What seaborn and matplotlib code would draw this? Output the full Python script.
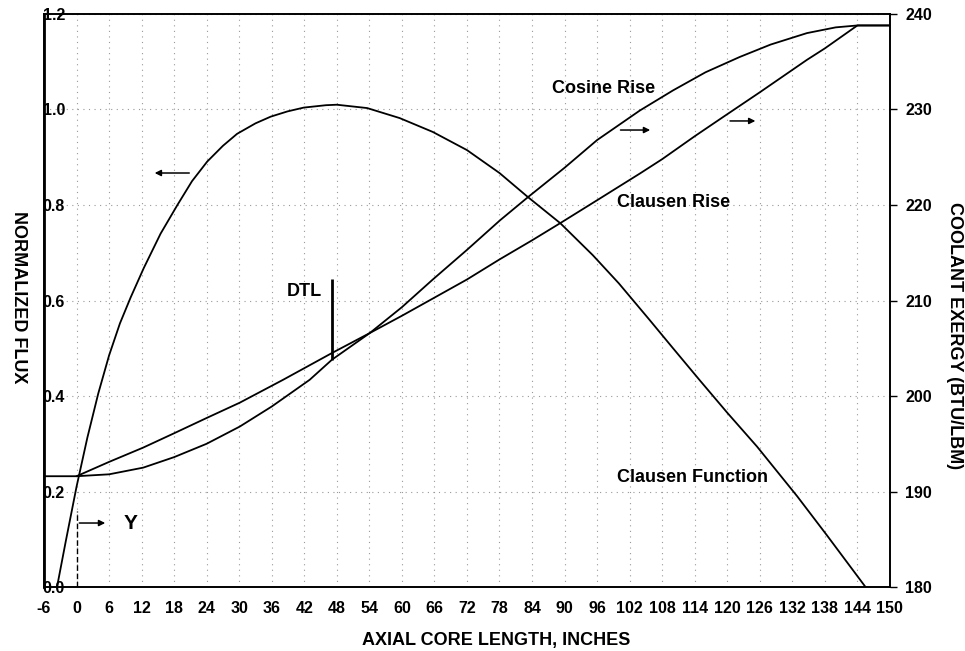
"""
Axial flux shape and coolant exergy rise along the core length.
Left axis: normalized flux (Clausen function); right axis: coolant exergy.
"""

import numpy as np
import pandas as pd
import matplotlib
matplotlib.use("Agg")
import matplotlib.pyplot as plt
import seaborn as sns

# ── Data ───────────────────────────────────────────────────────────────────
flux_x = [-3.6, -2, 0, 2, 4, 6, 8, 10, 12.4, 15.5, 18.6, 21.3, 24.1, 27, 29.6,
          33, 35.8, 38.9, 41.9, 46, 48, 53.6, 59.6, 65.7, 72, 78, 83.2, 89.2,
          95.2, 100, 105.7, 110, 115, 120, 125.5, 132.9, 138.4, 145.5]
flux_y = [0.0, 0.095, 0.21, 0.313, 0.405, 0.485, 0.552, 0.607, 0.668, 0.74, 0.80,
          0.85, 0.891, 0.924, 0.949, 0.971, 0.985, 0.996, 1.004, 1.009, 1.01,
          1.003, 0.982, 0.953, 0.915, 0.867, 0.817, 0.762, 0.695, 0.636, 0.559,
          0.50, 0.432, 0.365, 0.294, 0.19, 0.108, 0.0]

cos_x = [-6, 0, 6, 12.3, 18, 24, 30.1, 36, 43, 47.1, 54.1, 60, 65.7, 72, 78.1,
         83.2, 90, 96, 103.9, 110, 116, 122.3, 128, 134.7, 140, 144, 150]
cos_y = [191.6, 191.6, 191.8, 192.5, 193.6, 195.0, 196.8, 198.9, 201.7, 203.8,
         206.6, 209.3, 212.2, 215.3, 218.4, 220.8, 223.9, 226.8, 229.9, 232.0,
         233.9, 235.5, 236.8, 238.0, 238.6, 238.8, 238.8]

cla_x = [0, 6, 12.3, 18, 24, 30.1, 38.1, 47.1, 54.1, 60, 66, 72, 78, 84, 89.2,
         96, 103.9, 108, 114, 119.2, 126, 134.7, 138, 144, 150]
cla_y = [191.6, 193.1, 194.6, 196.1, 197.7, 199.3, 201.7, 204.5, 206.6, 208.4,
         210.3, 212.2, 214.3, 216.3, 218.1, 220.5, 223.3, 224.8, 227.2, 229.2,
         231.8, 235.2, 236.4, 238.8, 238.8]

x_ticks = list(range(-6, 151, 6))
left_ticks = [0.0, 0.2, 0.4, 0.6, 0.8, 1.0, 1.2]
right_ticks = [180, 190, 200, 210, 220, 230, 240]

# annotation spots, in (x, normalized flux) units
DTL_X, DTL_Y0, DTL_Y1 = 47.1, 0.475, 0.645
Y_MARK_TOP = 0.16

sns.set_theme(style="white")
plt.rcParams["font.family"] = ["Liberation Sans", "DejaVu Sans"]
plt.rcParams["font.weight"] = "bold"
plt.rcParams["text.color"] = "black"
plt.rcParams["xtick.color"] = "black"
plt.rcParams["ytick.color"] = "black"
plt.rcParams["axes.unicode_minus"] = False

fig = plt.figure(figsize=(9.65, 6.51), dpi=100)
ax = fig.add_axes([0.0456, 0.0983, 0.8766, 0.8802])
ax2 = ax.twinx()

flux_df = pd.DataFrame({"x": flux_x, "y": flux_y})
cos_df = pd.DataFrame({"x": cos_x, "y": cos_y})
cla_df = pd.DataFrame({"x": cla_x, "y": cla_y})

LW = 1.3
sns.lineplot(data=flux_df, x="x", y="y", ax=ax, color="black", lw=LW,
             sort=False, estimator=None)
sns.lineplot(data=cos_df, x="x", y="y", ax=ax2, color="black", lw=LW,
             sort=False, estimator=None)
sns.lineplot(data=cla_df, x="x", y="y", ax=ax2, color="black", lw=LW,
             sort=False, estimator=None)

ax.set_xlim(-6, 150)
ax.set_ylim(0, 1.2)
ax2.set_ylim(180, 240)
ax.set_xticks(x_ticks)
ax.set_yticks(left_ticks)
ax.set_yticklabels([f"{v:.1f}" for v in left_ticks])
ax2.set_yticks(right_ticks)
ax.set_xlabel(""); ax.set_ylabel(""); ax2.set_ylabel("")

ax.grid(True, color="0.6", linestyle=(0, (1, 4)), linewidth=0.8)
ax2.grid(False)

for sp in ax.spines.values():
    sp.set_color("black"); sp.set_linewidth(1.2)
ax.spines["left"].set_linewidth(2.0)
for sp in ax2.spines.values():
    sp.set_color("black"); sp.set_linewidth(1.2)

ax.tick_params(axis="x", length=0, pad=10, labelsize=11.5)
ax.tick_params(axis="y", length=0, pad=1, labelsize=11.5)
plt.setp(ax.get_yticklabels(), ha="left")
ax2.tick_params(axis="y", direction="out", length=5, width=1, pad=6,
                labelsize=11.5, right=True)
for lab in ax.get_xticklabels() + ax.get_yticklabels() + ax2.get_yticklabels():
    lab.set_fontweight("bold")

# ── Annotations ────────────────────────────────────────────────────────────
arrow = dict(arrowstyle="-|>", color="black", lw=1.1, mutation_scale=9)
ax.annotate("", xy=(13.9, 0.867), xytext=(21.3, 0.867), arrowprops=arrow)
ax.annotate("", xy=(106.3, 0.957), xytext=(99.8, 0.957), arrowprops=arrow)
ax.annotate("", xy=(125.7, 0.976), xytext=(120.0, 0.976), arrowprops=arrow)
ax.annotate("", xy=(5.8, 0.134), xytext=(0, 0.134), arrowprops=arrow)
ax.plot([0, 0], [0, Y_MARK_TOP], color="black", lw=1.0, ls=(0, (4, 2)))
ax.vlines(DTL_X, DTL_Y0, DTL_Y1, color="black", lw=2.0)

tkw = dict(fontsize=13, fontweight="bold", va="center")
ax.text(87.7, 1.045, "Cosine Rise", ha="left", **tkw)
ax.text(99.7, 0.806, "Clausen Rise", ha="left", **tkw)
ax.text(99.7, 0.23, "Clausen Function", ha="left", **tkw)
ax.text(45.3, 0.618, "DTL", ha="right", **tkw)
ax.text(8.6, 0.134, "Y", ha="left", fontsize=15, fontweight="bold", va="center")

fig.text(496 / 965, 11 / 651, "AXIAL CORE LENGTH, INCHES", ha="center",
         va="center", fontsize=13, fontweight="bold")
fig.text(18 / 965, 0.544, "NORMALIZED FLUX", rotation=270, ha="center",
         va="center", fontsize=13, fontweight="bold")
fig.text(955 / 965, 0.484, "COOLANT EXERGY (BTU/LBM)", rotation=270,
         ha="center", va="center", fontsize=13, fontweight="bold")

fig.savefig("out.png", dpi=100)
plt.close(fig)
